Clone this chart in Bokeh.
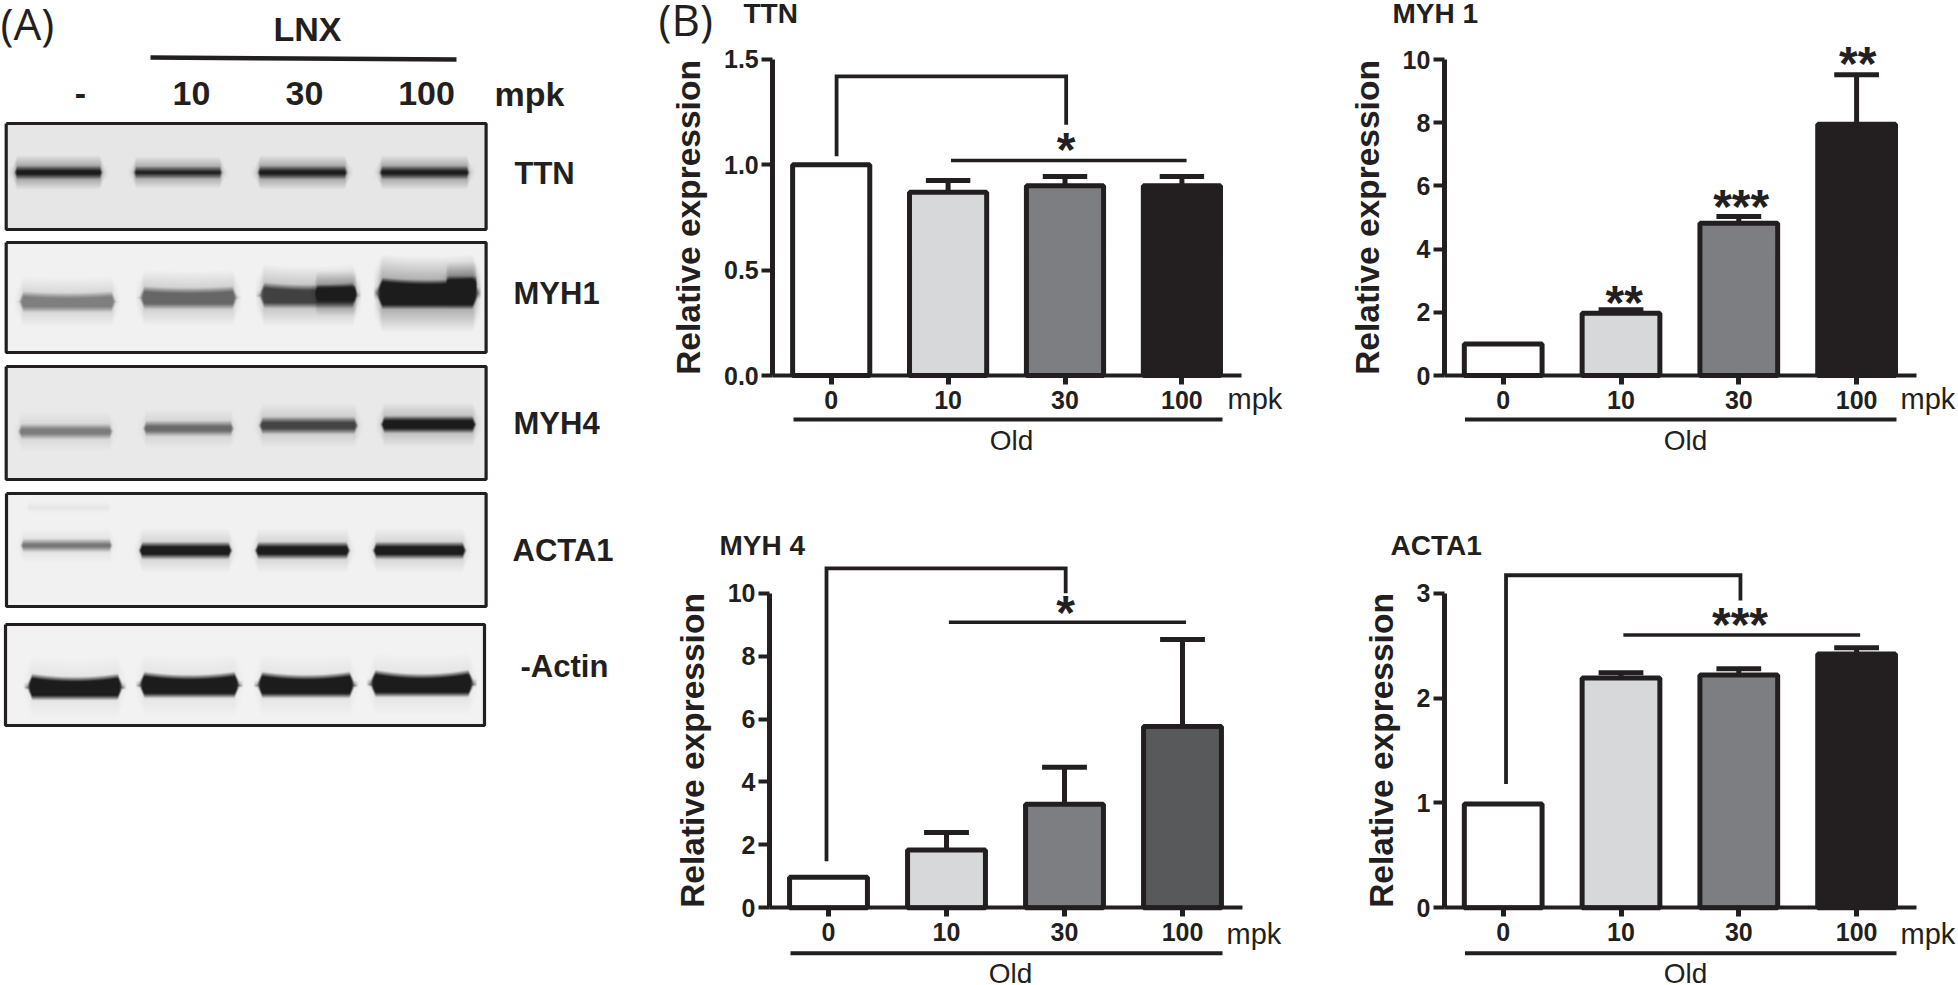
import numpy as np
from bokeh.core.properties import value
from bokeh.embed import file_html
from bokeh.layouts import column, row
from bokeh.models import FixedTicker, LinearAxis, LinearColorMapper, Range1d
from bokeh.plotting import figure
from bokeh.resources import INLINE

# ---------- data ----------
doses = ["0", "10", "30", "100"]
positions = [0, 1, 2, 3]

ttn_values = [1.0, 0.87, 0.90, 0.90]
ttn_errors = [None, 0.925, 0.945, 0.945]
ttn_ticks = [0.0, 0.5, 1.0, 1.5]
ttn_ticklabels = ["0.0", "0.5", "1.0", "1.5"]

myh1_values = [1.0, 1.97, 4.82, 7.95]
myh1_errors = [None, 2.08, 5.03, 9.52]
myh1_ticks = [0, 2, 4, 6, 8, 10]
myh1_ticklabels = ["0", "2", "4", "6", "8", "10"]

myh4_values = [0.97, 1.84, 3.29, 5.76]
myh4_errors = [None, 2.39, 4.47, 8.53]
myh4_ticks = [0, 2, 4, 6, 8, 10]
myh4_ticklabels = ["0", "2", "4", "6", "8", "10"]

acta1_values = [0.99, 2.19, 2.22, 2.42]
acta1_errors = [None, 2.24, 2.28, 2.48]
acta1_ticks = [0, 1, 2, 3]
acta1_ticklabels = ["0", "1", "2", "3"]

# significance annotations, in data units
ttn_bracket = ([0.046, 0.046, 2.01, 2.01], [1.04, 1.42, 1.42, 1.19])
ttn_span = ([1.025, 3.04], [1.02, 1.02])
ttn_stars = ([2.01], [1.10], ["*"])
myh1_stars = ([1.027, 2.02, 3.01], [2.5, 5.54, 10.06], ["**", "***", "**"])
myh4_bracket = ([-0.017, -0.017, 2.01, 2.01], [1.48, 10.79, 10.79, 10.0])
myh4_span = ([1.02, 3.03], [9.08, 9.08])
myh4_stars = ([2.01], [9.58], ["*"])
acta1_bracket = ([0.024, 0.024, 2.014, 2.014], [1.18, 3.17, 3.17, 2.93])
acta1_span = ([1.02, 3.03], [2.60, 2.60])
acta1_stars = ([2.01], [2.76], ["***"])

# blot bands: x0, x1, y centre, half thickness, darkness, smile
ttn_bands = [(12, 104, 172, 4, 0.88, 0), (131, 224, 172, 3.5, 0.80, 0),
             (255, 349, 172, 4, 0.85, 0), (377, 471, 172, 4, 0.85, 0)]
myh1_bands = [(18, 116, 302, 7, 0.40, 2), (139, 237, 298, 8, 0.50, 2),
              (259, 357, 296, 9, 0.66, 3), (314, 357, 293, 6, 0.98, 0),
              (377, 477, 294, 12, 1.0, 3), (445, 477, 284, 6, 1.0, 0)]
myh4_bands = [(16, 114, 431, 5, 0.42, 0), (141, 235, 428, 5, 0.50, 0),
              (257, 359, 425, 6, 0.66, 0), (379, 477, 424, 6, 0.98, 0)]
acta1_bands = [(24, 112, 507, 2, 0.05, 0), (18, 114, 545, 4, 0.48, 0),
               (137, 233, 550, 6, 0.95, 0), (253, 351, 550, 6, 0.92, 0),
               (371, 467, 550, 6, 0.95, 0)]
actin_bands = [(27, 122, 688, 9, 1.0, 4), (139, 239, 686, 9, 1.0, 4),
               (257, 354, 686, 9, 1.0, 4), (370, 473, 685, 9, 1.0, 5)]
blot_names = ["TTN", "MYH1", "MYH4", "ACTA1", "-Actin"]
blot_label_x = [514, 513, 513, 512, 520]
blot_label_y = [173, 293, 423, 550, 666]
blot_boxes = [(5.7, 123, 485.6, 229, 230), (5.7, 242, 485.6, 352, 241),
              (5.7, 366, 485.6, 479, 233), (6, 493, 485.6, 606, 241),
              (5, 624, 484, 725, 242)]
blot_halo = [0.38, 0.30, 0.20, 0.14, 0.06]
blot_bands = [ttn_bands, myh1_bands, myh4_bands, acta1_bands, actin_bands]
lane_labels = ["-", "10", "30", "100"]
lane_label_x = [80, 191, 304, 426]

# ---------- style ----------
INK = "#231f20"
FONT = value("Liberation Sans")
COLORS = ["#ffffff", "#d7d8da", "#7d7e82", INK]
COLORS_MYH4 = ["#ffffff", "#d7d8da", "#7d7e82", "#58595b"]
GRAY_RAMP = ["#%02x%02x%02x" % (i, i, i) for i in range(28, 256)]
PAGE_H = 985


def make_blot():
    L, T, R, B = 0, 0, 640, PAGE_H
    p = figure(width=R - L, height=B - T, x_range=Range1d(L, R), y_range=Range1d(B, T),
               x_axis_type=None, y_axis_type=None, toolbar_location=None,
               output_backend="svg", min_border=0, outline_line_color=None)
    p.grid.visible = False
    xx, yy = np.meshgrid(np.arange(L, R) + 0.5, np.arange(T, B) + 0.5)
    img = np.full(xx.shape, 255.0)
    for (x0, y0, x1, y1, bg), bands, halo_k in zip(blot_boxes, blot_bands, blot_halo):
        inside = (xx >= x0) & (xx <= x1) & (yy >= y0) & (yy <= y1)
        layer = np.full(xx.shape, float(bg))
        for bx0, bx1, yc, h, d, smile in bands:
            xc = (bx0 + bx1) / 2
            u = (xx - xc) / ((bx1 - bx0) / 2)
            off = yy - yc
            dy = np.where(off < 0, -off - smile * u ** 2, off)
            dy = dy + 10 * np.clip(np.abs(u) - 0.9, 0, 0.1) / 0.1
            sx = np.clip((bx1 + 4 - xx) / 8, 0, 1) * np.clip((xx - bx0 + 4) / 8, 0, 1)
            core = np.clip((h + 3 - dy) / 6, 0, 1)
            halo = np.clip((2.6 * h + 7 - dy) / (1.6 * h + 7), 0, 1)
            layer *= 1 - halo_k * d * halo * sx
            layer *= 1 - d * core * sx
        img = np.where(inside, layer, img)
    p.image(image=[img], x=L, y=T, dw=R - L, dh=B - T,
            color_mapper=LinearColorMapper(palette=GRAY_RAMP, low=28, high=255))
    xs = [[b[0], b[2], b[2], b[0], b[0]] for b in blot_boxes]
    ys = [[b[1], b[1], b[3], b[3], b[1]] for b in blot_boxes]
    p.multi_line(xs, ys, line_color=INK, line_width=3.2)
    p.line([150, 300, 456], [57, 58, 59], line_color=INK, line_width=4.5)
    p.text(x=[0], y=[22], text=["(A)"], text_font=value("Open Sans"), text_font_size="44px",
           text_color=INK, text_baseline="middle", text_align="left")
    p.text(x=[307], y=[28], text=["LNX"], text_font=FONT, text_font_style="bold", text_font_size="34px",
           text_color=INK, text_baseline="middle", text_align="center")
    p.text(x=lane_label_x, y=[93] * 4, text=lane_labels, text_font=FONT, text_font_style="bold",
           text_font_size="34px", text_color=INK, text_baseline="middle", text_align="center")
    p.text(x=[494], y=[93], text=["mpk"], text_font=FONT, text_font_style="bold", text_font_size="34px",
           text_color=INK, text_baseline="middle", text_align="left")
    p.text(x=blot_label_x, y=blot_label_y, text=blot_names, text_font=FONT, text_font_style="bold",
           text_font_size="31px", text_color=INK, text_baseline="middle", text_align="left")
    return p


def make_panel(box, origin, title, title_x, title_y, values, errors, ticks, ticklabels, colors,
               rule_x, rule_y, old_x, old_y, mpk_x, mpk_y, bracket=None, span=None, stars=None, extra=None):
    L, T, R, B = box
    tick0, spacing, y0, yscale = origin
    p = figure(width=R - L, height=B - T,
               x_range=Range1d((L - tick0) / spacing, (R - tick0) / spacing),
               y_range=Range1d((y0 - B) / yscale, (y0 - T) / yscale),
               x_axis_type=None, y_axis_type=None, toolbar_location=None,
               output_backend="svg", min_border=0, outline_line_color=None)
    p.grid.visible = False
    p.extra_x_ranges = {"px": Range1d(L, R)}
    p.extra_y_ranges = {"px": Range1d(B, T)}

    p.vbar(x=positions, top=values, bottom=0, width=0.66, fill_color=colors,
           line_color=INK, line_width=5)
    idx = [i for i, e in enumerate(errors) if e is not None]
    ex = [positions[i] for i in idx]
    eb = [values[i] for i in idx]
    et = [errors[i] for i in idx]
    p.segment(x0=ex, y0=eb, x1=ex, y1=et, line_color=INK, line_width=5)
    p.segment(x0=[x - 0.19 for x in ex], y0=et, x1=[x + 0.19 for x in ex], y1=et,
              line_color=INK, line_width=5, line_cap="butt")

    if bracket:
        p.line(bracket[0], bracket[1], line_color=INK, line_width=3.8, line_join="miter")
    if span:
        p.line(span[0], span[1], line_color=INK, line_width=3.5)
    if stars:
        p.text(x=stars[0], y=stars[1], text=stars[2], text_font=FONT, text_font_style="bold",
               text_font_size="48px", text_color=INK, text_align="center", text_baseline="middle",
               y_offset=6)

    yaxis = LinearAxis(fixed_location=-0.5, bounds=(ticks[0], ticks[-1]),
                       ticker=FixedTicker(ticks=ticks), axis_label="Relative expression")
    yaxis.major_label_overrides = dict(zip(ticks, ticklabels))
    yaxis.axis_line_color = INK
    yaxis.axis_line_width = 5
    yaxis.major_tick_line_color = INK
    yaxis.major_tick_line_width = 3.8
    yaxis.major_tick_out = 11
    yaxis.major_tick_in = 0
    yaxis.minor_tick_line_color = None
    yaxis.major_label_text_font = "Liberation Sans"
    yaxis.major_label_text_font_style = "bold"
    yaxis.major_label_text_font_size = "25px"
    yaxis.major_label_text_color = INK
    yaxis.major_label_standoff = 3
    yaxis.axis_label_text_font = "Liberation Sans"
    yaxis.axis_label_text_font_style = "bold"
    yaxis.axis_label_text_font_size = "33.5px"
    yaxis.axis_label_text_color = INK
    yaxis.axis_label_standoff = 14
    p.add_layout(yaxis, "left")

    xaxis = LinearAxis(fixed_location=0, bounds=(-0.5, 3.51), ticker=FixedTicker(ticks=positions))
    xaxis.major_label_overrides = dict(zip(positions, doses))
    xaxis.axis_line_color = INK
    xaxis.axis_line_width = 4
    xaxis.major_tick_line_color = INK
    xaxis.major_tick_line_width = 5
    xaxis.major_tick_out = 9
    xaxis.major_tick_in = 0
    xaxis.minor_tick_line_color = None
    xaxis.major_label_text_font = "Liberation Sans"
    xaxis.major_label_text_font_style = "bold"
    xaxis.major_label_text_font_size = "25px"
    xaxis.major_label_text_color = INK
    xaxis.major_label_standoff = 6
    p.add_layout(xaxis, "below")

    px = dict(x_range_name="px", y_range_name="px")
    p.line(rule_x, [rule_y, rule_y], line_color=INK, line_width=4, **px)
    p.text(x=[title_x], y=[title_y], text=[title], text_font=FONT, text_font_style="bold",
           text_font_size="28px", text_color=INK, text_baseline="middle", text_align="left", **px)
    p.text(x=[old_x], y=[old_y], text=["Old"], text_font=FONT, text_font_size="28px",
           text_color=INK, text_baseline="middle", text_align="center", **px)
    p.text(x=[mpk_x], y=[mpk_y], text=["mpk"], text_font=FONT, text_font_size="29px",
           text_color=INK, text_baseline="middle", text_align="left", **px)
    if extra:
        p.text(x=[extra[0]], y=[extra[1]], text=[extra[2]], text_font=value("Open Sans"),
               text_font_size="44px", text_color=INK, text_baseline="middle", text_align="left", **px)
    return p


blot = make_blot()
ttn = make_panel((640, 0, 1340, 490), (830.7, 116.9, 375, 210.7), "TTN", 743, 13,
                 ttn_values, ttn_errors, ttn_ticks, ttn_ticklabels, COLORS,
                 [793, 1222], 419, 1011, 440, 1227, 398,
                 bracket=ttn_bracket, span=ttn_span, stars=ttn_stars, extra=(658, 18, "(B)"))
myh1 = make_panel((1340, 0, 1958, 490), (1502.7, 117.8, 375, 31.6), "MYH 1", 1392, 13,
                  myh1_values, myh1_errors, myh1_ticks, myh1_ticklabels, COLORS,
                  [1464.5, 1896], 419, 1685, 440, 1900, 398, stars=myh1_stars)
myh4 = make_panel((640, 490, 1340, 985), (828, 118, 907.3, 31.46), "MYH 4", 719, 545,
                  myh4_values, myh4_errors, myh4_ticks, myh4_ticklabels, COLORS_MYH4,
                  [790, 1222], 952.7, 1010, 973, 1226, 933,
                  bracket=myh4_bracket, span=myh4_span, stars=myh4_stars)
acta1 = make_panel((1340, 490, 1958, 985), (1502.7, 117.8, 907.3, 104.9), "ACTA1", 1390, 545,
                   acta1_values, acta1_errors, acta1_ticks, acta1_ticklabels, COLORS,
                   [1464.5, 1896], 952.7, 1685, 973, 1900, 933,
                   bracket=acta1_bracket, span=acta1_span, stars=acta1_stars)

page = row(blot, column(row(ttn, myh1, spacing=0), row(myh4, acta1, spacing=0), spacing=0), spacing=0)

open("out.html", "w").write(file_html(page, INLINE))
